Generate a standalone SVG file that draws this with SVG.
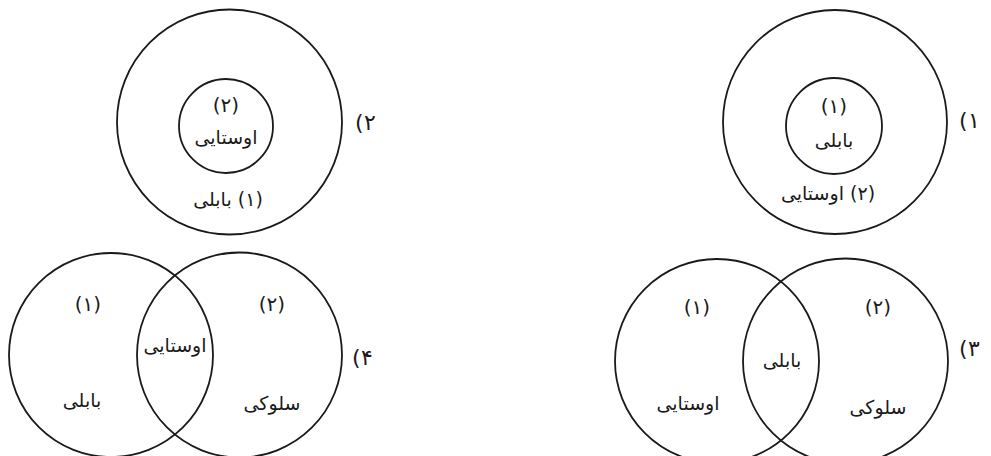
<svg xmlns="http://www.w3.org/2000/svg" width="991" height="456" viewBox="0 0 991 456">
<style>
.c{fill:none;stroke:#1a1a1a;stroke-width:1.8}
.t{font-family:"DejaVu Sans",sans-serif;font-size:19px;fill:#1a1a1a;text-anchor:middle;dominant-baseline:central}
.n{font-size:20px}
.o{font-family:"DejaVu Sans",sans-serif;font-size:22px;fill:#1a1a1a;dominant-baseline:central}
.r{direction:rtl;unicode-bidi:embed}
</style>
<rect width="991" height="456" fill="#ffffff"/>
<g id="diagram2">
<circle class="c" cx="229.5" cy="122" r="112.5"/>
<circle class="c" cx="226" cy="126" r="47"/>
<text class="t n" x="226" y="105">(۲)</text>
<text class="t" x="226" y="137">اوستایی</text>
<text class="t r" x="228" y="199">(۱) بابلی</text>
<text class="o"><tspan x="355" y="122">(</tspan><tspan x="364" y="122">۲</tspan></text>
</g>
<g id="diagram1">
<circle class="c" cx="835" cy="122" r="112"/>
<circle class="c" cx="834" cy="126" r="48"/>
<text class="t n" x="834" y="106">(۱)</text>
<text class="t" x="834" y="140">بابلی</text>
<text class="t r" x="828" y="193">(۲) اوستایی</text>
<text class="o"><tspan x="959" y="120">(</tspan><tspan x="968" y="120">۱</tspan></text>
</g>
<g id="diagram4">
<circle class="c" cx="111" cy="355" r="102"/>
<circle class="c" cx="239.5" cy="355" r="102.5"/>
<text class="t n" x="88" y="304">(۱)</text>
<text class="t n" x="272" y="304">(۲)</text>
<text class="t" x="175" y="345">اوستایی</text>
<text class="t" x="82" y="400">بابلی</text>
<text class="t" x="272" y="403">سلوکی</text>
<text class="o"><tspan x="352" y="357">(</tspan><tspan x="361" y="357">۴</tspan></text>
</g>
<g id="diagram3">
<circle class="c" cx="717" cy="361" r="102"/>
<circle class="c" cx="845.5" cy="361" r="102.5"/>
<text class="t n" x="697" y="307">(۱)</text>
<text class="t n" x="878" y="307">(۲)</text>
<text class="t" x="782" y="360">بابلی</text>
<text class="t" x="688" y="403">اوستایی</text>
<text class="t" x="878" y="407">سلوکی</text>
<text class="o"><tspan x="959" y="348">(</tspan><tspan x="968" y="348">۳</tspan></text>
</g>
<g id="connectors"></g>
</svg>
